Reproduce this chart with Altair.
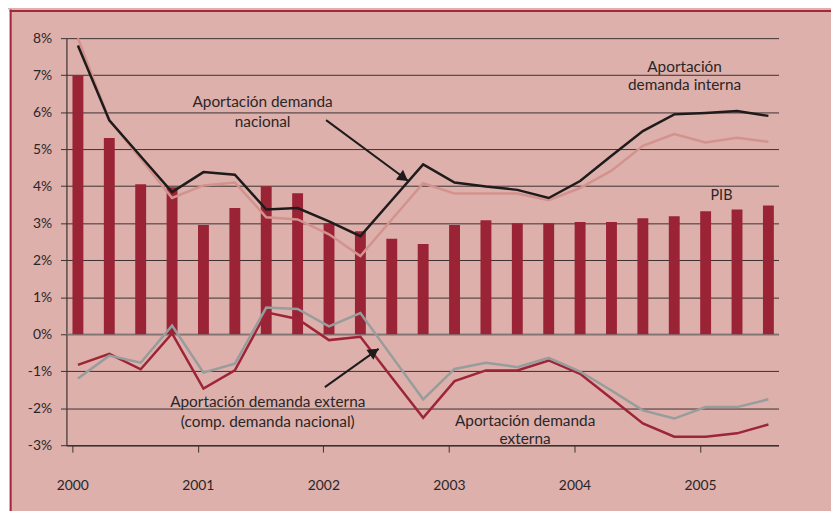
import altair as alt
import pandas as pd

# ---- data ----
trimestres = ["2000T1", "2000T2", "2000T3", "2000T4",
              "2001T1", "2001T2", "2001T3", "2001T4",
              "2002T1", "2002T2", "2002T3", "2002T4",
              "2003T1", "2003T2", "2003T3", "2003T4",
              "2004T1", "2004T2", "2004T3", "2004T4",
              "2005T1", "2005T2", "2005T3"]
pib = [7.0, 5.3, 4.05, 3.97, 2.95, 3.41, 4.0, 3.81, 3.0, 2.78, 2.58, 2.44,
       2.95, 3.08, 3.0, 3.0, 3.03, 3.03, 3.13, 3.19, 3.32, 3.37, 3.48]
dem_nacional = [7.8, 5.78, 4.81, 3.84, 4.38, 4.31, 3.37, 3.41, 3.05, 2.65, 3.62, 4.59,
                4.1, 3.99, 3.9, 3.68, 4.14, 4.82, 5.49, 5.94, 5.98, 6.03, 5.9]
dem_interna = [8.0, 5.79, 4.74, 3.68, 4.02, 4.1, 3.16, 3.1, 2.7, 2.11, 3.1, 4.08,
               3.8, 3.8, 3.8, 3.62, 3.95, 4.42, 5.09, 5.41, 5.18, 5.31, 5.2]
dem_externa = [-0.83, -0.53, -0.95, 0.02, -1.47, -0.98, 0.59, 0.41, -0.16, -0.07, -1.17, -2.26,
               -1.27, -0.98, -0.98, -0.71, -1.07, -1.74, -2.41, -2.77, -2.77, -2.68, -2.44]
dem_externa_comp = [-1.2, -0.58, -0.77, 0.23, -1.04, -0.8, 0.72, 0.68, 0.21, 0.57, -0.6, -1.76,
                    -0.94, -0.77, -0.89, -0.64, -1.01, -1.52, -2.06, -2.28, -1.97, -1.97, -1.76]

anio_ticks = [2000, 2001, 2002, 2003, 2004, 2005]
pct_ticks = [-3, -2, -1, 0, 1, 2, 3, 4, 5, 6, 7, 8]

etiquetas = ["Aportación demanda", "nacional",
             "Aportación", "demanda interna",
             "PIB",
             "Aportación demanda externa", "(comp. demanda nacional)",
             "Aportación demanda", "externa"]
etiq_x = [2001.516, 2001.516, 2004.877, 2004.877, 2005.171, 2001.557, 2001.557, 2003.607, 2003.607]
etiq_y = [6.28, 5.72, 7.22, 6.72, 3.72, -1.83, -2.37, -2.34, -2.84]
etiq_size = [15.5, 15.5, 15.5, 15.5, 14.5, 15.5, 15.5, 15.5, 15.5]

flecha_x = [2002.022, 2002.683, 2002.012, 2002.44]
flecha_y = [5.785, 4.126, -1.43, -0.398]
flecha_id = ["a", "a", "b", "b"]
punta_x = [2002.64, 2002.405]
punta_y = [4.225, -0.475]
punta_ang = [36, 325]

# ---- derived tables ----
def pos(q):
    return int(q[:4]) + (int(q[-1]) - 1) * 0.25 + 0.045

t = [pos(q) for q in trimestres]
df = pd.DataFrame({"t": t, "pib": pib, "nac": dem_nacional, "int": dem_interna,
                   "ext": dem_externa, "extc": dem_externa_comp})
df_lab = pd.DataFrame({"x": etiq_x, "y": etiq_y, "txt": etiquetas, "fs": etiq_size})
df_arr = pd.DataFrame({"x": flecha_x, "y": flecha_y, "id": flecha_id, "o": [0, 1, 0, 1]})
df_tip = pd.DataFrame({"x": punta_x, "y": punta_y, "ang": punta_ang})

W, H = 719, 411
FONT = "Lato"
TXT = "#2b2626"
DARK = "#3b3131"
BG = "#ddb0ac"

xs = alt.Scale(domain=[1999.993, 2005.586], nice=False, zero=False)
ys = alt.Scale(domain=[-3, 8], nice=False, zero=False)

xaxis = alt.Axis(values=anio_ticks, tickCount=6, format="d", grid=False, tickSize=7,
                 tickColor=DARK, domainColor=DARK, domainWidth=1.5, labelFontSize=14,
                 labelColor=TXT, labelFont=FONT, labelPadding=27, title=None,
                 labelOverlap=False)
yaxis = alt.Axis(values=pct_ticks, tickCount=12, labelExpr="datum.value + '%'", grid=True,
                 gridColor=DARK, gridWidth=1, tickSize=6, tickColor=DARK, domainColor=DARK,
                 domainWidth=1.2, labelFontSize=14, labelColor=TXT, labelFont=FONT,
                 labelPadding=9, title=None, labelOverlap=False)

def X(f):
    return alt.X(f, scale=xs, axis=xaxis)

def Y(f):
    return alt.Y(f, scale=ys, axis=yaxis)

base = alt.Chart(df)
one = pd.DataFrame({"k": [0]})

cero = alt.Chart(one).mark_rule(color="#8c8080", strokeWidth=1.2).encode(
    y=alt.datum(0, scale=ys, axis=yaxis), x=alt.value(0), x2=alt.value(W))

barras = base.mark_bar(color="#9a2435", size=11).encode(
    x=X("t:Q"), y=Y("pib:Q"), y2=alt.datum(0))

def linea(col, color, w=2.5):
    return base.mark_line(color=color, strokeWidth=w, strokeJoin="miter").encode(
        x=X("t:Q"), y=Y(f"{col}:Q"))

l_int = linea("int", "#d3928d")
l_nac = linea("nac", "#1f1b1b")
l_ext = linea("ext", "#9e2437")
l_extc = linea("extc", "#979c9c")

flechas = alt.Chart(df_arr).mark_line(color="#1f1b1b", strokeWidth=2).encode(
    x=X("x:Q"), y=Y("y:Q"), detail="id:N", order="o:Q")
puntas = alt.Chart(df_tip).mark_point(shape="triangle-right", filled=True, color="#1f1b1b",
                                      size=150, opacity=1).encode(
    x=X("x:Q"), y=Y("y:Q"), angle=alt.Angle("ang:Q", scale=None))

textos = alt.Chart(df_lab).mark_text(font=FONT, color=TXT, align="center",
                                     baseline="middle").encode(
    x=X("x:Q"), y=Y("y:Q"), text="txt:N", size=alt.Size("fs:Q", scale=None))

margen_blanco = alt.Chart(one).mark_rect(color="white").encode(
    x=alt.value(-60), x2=alt.value(-57.3), y=alt.value(-29), y2=alt.value(H + 100))
borde_top = alt.Chart(one).mark_rule(color="#a3283c", strokeWidth=2).encode(
    x=alt.value(-57.3), x2=alt.value(W + 100), y=alt.value(-27.5))
borde_left = alt.Chart(one).mark_rule(color="#a3283c", strokeWidth=2).encode(
    x=alt.value(-56.3), y=alt.value(-29), y2=alt.value(H + 100))

chart = alt.layer(cero, barras, l_int, l_nac, l_ext, l_extc, flechas, puntas, textos,
                  margen_blanco, borde_top, borde_left).properties(
    width=W, height=H,
    autosize=alt.AutoSizeParams(type="none"),
    padding={"left": 59, "top": 28, "right": 53, "bottom": 64},
    background=BG,
).configure_view(stroke="transparent")

chart.save("out.html", embed_options={"renderer": "svg", "actions": False})
